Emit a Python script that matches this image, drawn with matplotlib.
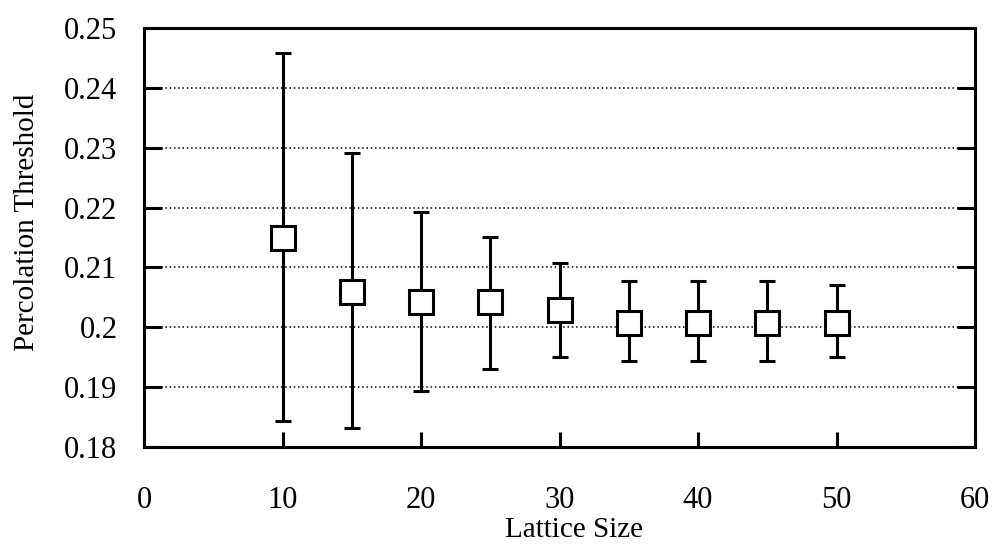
import matplotlib
matplotlib.use("Agg")
import matplotlib.pyplot as plt

# values
lattice_size = [10, 15, 20, 25, 30, 35, 40, 45, 50]
threshold = [0.215, 0.2059, 0.2042, 0.2042, 0.2029, 0.2008, 0.2008, 0.2008, 0.2008]
err_upper = [0.2458, 0.2292, 0.2193, 0.2151, 0.2108, 0.2077, 0.2077, 0.2077, 0.2070]
err_lower = [0.1844, 0.1832, 0.1894, 0.1930, 0.1950, 0.1943, 0.1943, 0.1943, 0.1950]

x_ticks = [0, 10, 20, 30, 40, 50, 60]
y_ticks = [0.18, 0.19, 0.20, 0.21, 0.22, 0.23, 0.24, 0.25]
y_tick_labels = ["0.18", "0.19", "0.2", "0.21", "0.22", "0.23", "0.24", "0.25"]

plt.rcParams["font.family"] = ["Liberation Serif", "DejaVu Serif"]

fig = plt.figure(figsize=(9.98, 5.46), dpi=100)
ax = fig.add_axes([0.1443, 0.1813, 0.8327, 0.7674])

yerr = [[t - lo for t, lo in zip(threshold, err_lower)],
        [hi - t for t, hi in zip(threshold, err_upper)]]
ax.errorbar(lattice_size, threshold, yerr=yerr, fmt="s", color="black",
            ecolor="black", elinewidth=2.2, capsize=6, capthick=2.2,
            markersize=17, markerfacecolor="white", markeredgecolor="black",
            markeredgewidth=2.2, zorder=3)

for y in y_ticks[1:-1]:
    ax.axhline(y, color="black", linestyle=(0, (1, 1.8)), linewidth=1.1, zorder=1)

ax.set_xlim(0, 60)
ax.set_ylim(0.18, 0.25)
ax.set_xticks(x_ticks)
ax.set_yticks(y_ticks)
ax.set_yticklabels(y_tick_labels)
ax.tick_params(axis="both", direction="in", width=2.2,
               labelsize=22, colors="black")
ax.tick_params(axis="y", right=True, length=13, pad=19)
ax.tick_params(axis="x", length=11, pad=28)
for spine in ax.spines.values():
    spine.set_linewidth(2.2)

ax.set_xlabel("Lattice Size", fontsize=21)
ax.set_ylabel("Percolation Threshold", fontsize=21)
ax.xaxis.set_label_coords(0.517, -0.168)
ax.yaxis.set_label_coords(-0.125, 0.536)

fig.savefig("out.png", dpi=100)
